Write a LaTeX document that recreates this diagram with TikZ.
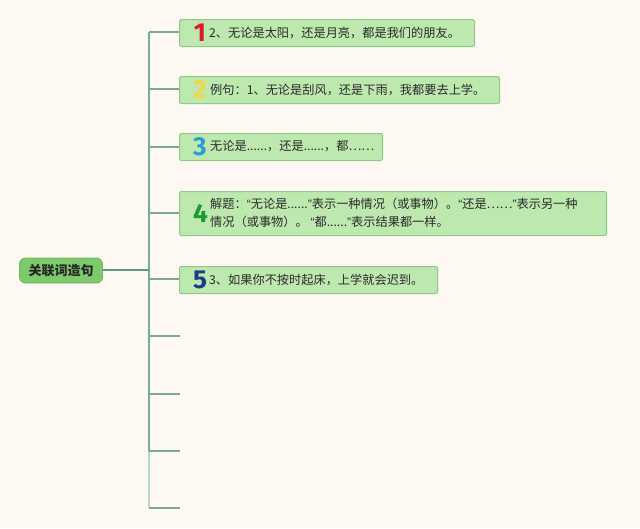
\documentclass[tikz,border=0pt]{standalone}
\usepackage{fontspec}
\newfontfamily\cjk{Noto Sans CJK SC}
\newfontfamily\numfont{Fira Sans}
\newfontfamily\qfont{Liberation Sans}
\newcommand{\myopenq}{{\qfont “}}
\newcommand{\mycloseq}{{\qfont ”}}
\definecolor{bg}{HTML}{FDF9F2}
\definecolor{boxfill}{HTML}{BDE8AE}
\definecolor{boxline}{HTML}{8FC98A}
\definecolor{rootfill}{HTML}{7DC96B}
\definecolor{rootline}{HTML}{6AB65A}
\definecolor{conn}{HTML}{7BAA94}
\definecolor{conndark}{HTML}{5F9A7E}
\definecolor{connlight}{HTML}{B9D8C9}
\definecolor{txt}{HTML}{2B2B2B}
\definecolor{nA}{HTML}{E0192A}
\definecolor{nB}{HTML}{F3D54A}
\definecolor{nC}{HTML}{2A9BDB}
\definecolor{nD}{HTML}{1E9B2E}
\definecolor{nE}{HTML}{1D3A8A}
\tikzset{
  topicbox/.style={draw=boxline, fill=boxfill, line width=1pt, rounded corners=2pt, anchor=north west},
  numlabel/.style={font=\numfont\bfseries\fontsize{26}{26}\selectfont, inner sep=0pt},
  topictext/.style={font=\cjk\fontsize{12.2}{18}\selectfont, text=txt, anchor=west, inner sep=0pt, align=left},
  conline/.style={draw=conn, line width=1.1pt},
}
\begin{document}
\begin{tikzpicture}[x=1pt,y=-1pt]
\fill[bg] (0,0) rectangle (640,528);
\useasboundingbox (0,0) rectangle (640,528);

% root
\node[draw=rootline, fill=rootfill, line width=0.8pt, rounded corners=6pt,
      minimum width=83pt, minimum height=25pt, inner sep=0pt,
      font=\cjk\bfseries\fontsize{13}{13}\selectfont, text=black!85] (root) at (61,270.5) {关联词造句};

% trunk
\coordinate (t0) at (149,32);
\coordinate (t1) at (149,89);
\coordinate (t2) at (149,147);
\coordinate (t3) at (149,213);
\coordinate (t4) at (149,279);
\coordinate (t5) at (149,336);
\coordinate (t6) at (149,394);
\coordinate (t7) at (149,451);
\coordinate (t8) at (149,508);
\coordinate (rj) at (149,270);
\draw[conn, line width=1.5pt] (t0) -- (t6);
\draw[connlight, line width=1.5pt] (t6) -- (t8);
\draw[conn, line width=1.5pt] (t5) -- (t7);
\draw[conndark, line width=2pt] (root.east |- rj) -- (rj);

% boxes
\node[topicbox, minimum width=295pt, minimum height=27pt] (b1) at (179,19) {};
\node[topicbox, minimum width=320pt, minimum height=27pt] (b2) at (179,76) {};
\node[topicbox, minimum width=203pt, minimum height=27pt] (b3) at (179,133) {};
\node[topicbox, minimum width=427pt, minimum height=44pt] (b4) at (179,191) {};
\node[topicbox, minimum width=258pt, minimum height=27pt] (b5) at (179,266) {};

\node[numlabel, text=nA] (n1) at (200,33) {1};
\node[numlabel, text=nB] (n2) at (200,90) {2};
\node[numlabel, text=nC] (n3) at (200,147) {3};
\node[numlabel, text=nD] (n4) at (200.5,213) {4};
\node[numlabel, text=nE] (n5) at (200,280) {5};

\node[topictext] (x1) at (209,32.5) {2、无论是太阳，还是月亮，都是我们的朋友。};
\node[topictext] (x2) at (210,89.5) {例句：1、无论是刮风，还是下雨，我都要去上学。};
\node[topictext] (x3) at (210,146.5) {无论是......，还是......，都……};
\node[topictext] (x4) at (210,213) {解题：\myopenq 无论是......\mycloseq 表示一种情况（或事物）。\myopenq 还是……\mycloseq 表示另一种\\情况（或事物）。 \myopenq 都......\mycloseq 表示结果都一样。};
\node[topictext] (x5) at (209,279.5) {3、如果你不按时起床，上学就会迟到。};

% branches
\coordinate (e6) at (180,336);
\coordinate (e7) at (180,394);
\coordinate (e8) at (180,451);
\coordinate (e9) at (180,508);
\draw[conline] (t0) -- (b1.west |- t0);
\draw[conline] (t1) -- (b2.west |- t1);
\draw[conline] (t2) -- (b3.west |- t2);
\draw[conline] (t3) -- (b4.west |- t3);
\draw[conline] (t4) -- (b5.west |- t4);
\draw[conline] (t5) -- (e6);
\draw[conline] (t6) -- (e7);
\draw[conline] (t7) -- (e8);
\draw[conline] (t8) -- (e9);
\end{tikzpicture}
\end{document}
